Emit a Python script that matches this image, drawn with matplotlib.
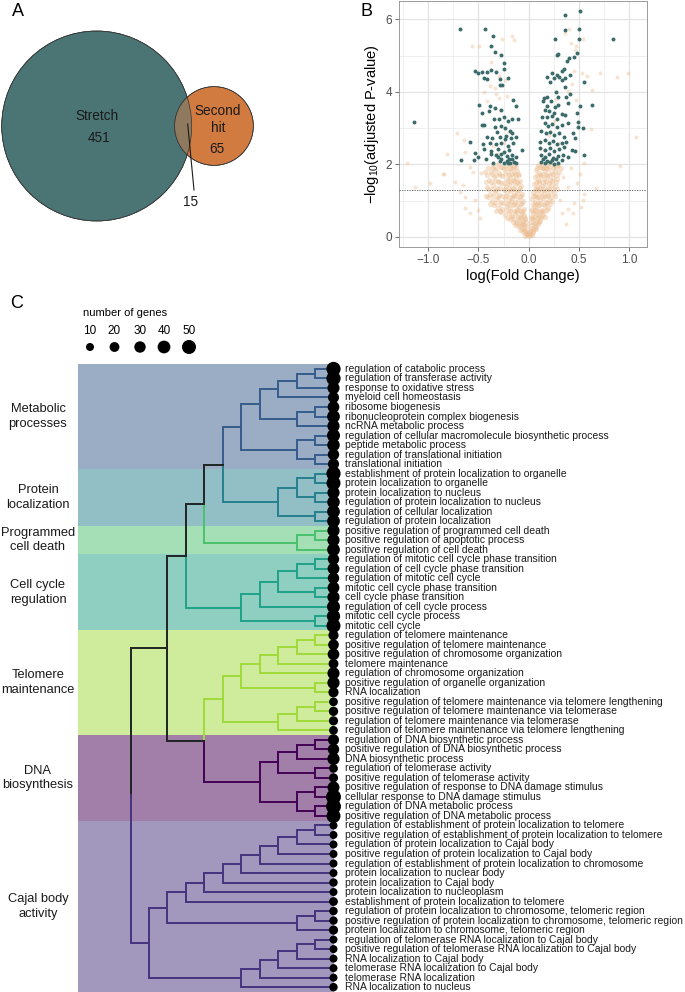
import numpy as np
import matplotlib
matplotlib.use("Agg")
import matplotlib.pyplot as plt
from matplotlib.patches import Circle, Rectangle
from matplotlib.ticker import MultipleLocator

plt.rcParams['font.family'] = ['Liberation Sans', 'DejaVu Sans']
plt.rcParams['mathtext.default'] = 'regular'

W, H = 685, 992

# ---------------- panel A: overlap of the two hit lists ----------------
VENN_NAMES = ["Stretch", "Second\nhit"]
VENN_ONLY = [451, 65]
VENN_BOTH = 15

# ---------------- panel B: volcano (log fold change, -log10 adj. p) ----------------
SIG_POINTS = [
    (-0.68, 5.73), (-0.43, 5.73), (-0.35, 5.55), (-0.37, 5.28), (-0.33, 5.11), (-0.27, 5.03),
    (-0.245, 4.81), (-0.25, 4.63), (-0.53, 4.57), (-0.50, 4.53), (-0.46, 4.55), (-0.41, 4.56),
    (-0.37, 4.61), (-0.32, 4.54), (-0.44, 4.38), (-0.41, 4.37), (-0.28, 4.37), (-0.21, 4.38),
    (-0.28, 4.19), (-0.26, 4.18), (-1.14, 3.16), (-0.16, 3.79), (-0.13, 3.61), (-0.49, 3.63),
    (-0.38, 3.62), (-0.33, 3.57), (-0.27, 3.50), (-0.46, 3.43), (-0.39, 3.47), (-0.34, 3.26),
    (-0.29, 3.24), (-0.25, 3.31), (-0.21, 3.19), (-0.17, 3.25), (-0.11, 3.25), (-0.46, 3.10),
    (-0.44, 3.09), (-0.33, 3.04), (-0.27, 3.06), (-0.24, 3.00), (-0.19, 2.92), (-0.17, 2.87),
    (-0.31, 2.90), (-0.41, 2.76), (-0.36, 2.73), (-0.28, 2.75), (-0.23, 2.78), (-0.18, 2.74),
    (-0.58, 2.63), (-0.45, 2.56), (-0.38, 2.60), (-0.32, 2.56), (-0.27, 2.58), (-0.21, 2.51),
    (-0.16, 2.58), (-0.44, 2.43), (-0.37, 2.38), (-0.30, 2.42), (-0.25, 2.35), (-0.20, 2.39),
    (-0.53, 2.31), (-0.50, 2.21), (-0.37, 2.28), (-0.32, 2.26), (-0.27, 2.28), (-0.22, 2.23),
    (-0.17, 2.26), (-0.13, 2.21), (-0.67, 2.11), (-0.54, 2.12), (-0.42, 2.15), (-0.28, 2.08),
    (-0.25, 2.03), (-0.21, 2.04), (-0.19, 2.03), (-0.15, 2.07), (-0.13, 2.03), (-0.27, 2.16),
    (-0.20, 2.14), (-0.17, 2.15), (-0.07, 2.39), (-0.13, 2.76), (-0.24, 2.70), (-0.30, 2.20),
    (-0.22, 2.10), (-0.35, 2.05),
    (0.51, 6.23), (0.36, 6.11), (0.36, 5.71), (0.50, 5.73), (0.26, 5.47), (0.50, 5.47),
    (0.84, 5.47), (0.29, 5.05), (0.28, 5.01), (0.40, 4.95), (0.45, 4.97), (0.48, 5.08),
    (0.38, 4.85), (0.35, 4.62), (0.33, 4.59), (0.23, 4.52), (0.28, 4.46), (0.18, 4.42),
    (0.25, 4.38), (0.30, 4.40), (0.33, 4.33), (0.36, 4.38), (0.21, 4.28), (0.41, 4.47),
    (0.55, 4.28), (0.36, 4.14), (0.27, 3.99), (0.15, 3.82), (0.18, 3.85), (0.29, 3.85),
    (0.37, 3.87), (0.41, 3.94), (0.14, 3.75), (0.22, 3.75), (0.39, 3.70), (0.63, 3.63),
    (0.51, 3.61), (0.18, 3.61), (0.26, 3.59), (0.29, 3.63), (0.16, 3.50), (0.20, 3.47),
    (0.25, 3.43), (0.33, 3.38), (0.48, 3.43), (0.13, 3.31), (0.18, 3.30), (0.23, 3.33),
    (0.28, 3.26), (0.36, 3.36), (0.39, 3.13), (0.16, 3.15), (0.19, 3.06), (0.23, 3.11),
    (0.28, 3.04), (0.33, 3.09), (0.49, 3.18), (0.49, 3.02), (0.54, 3.01), (0.12, 2.92),
    (0.17, 2.87), (0.21, 2.90), (0.25, 2.82), (0.30, 2.87), (0.35, 2.76), (0.44, 2.87),
    (0.11, 2.62), (0.16, 2.67), (0.20, 2.60), (0.24, 2.64), (0.28, 2.56), (0.33, 2.60),
    (0.37, 2.63), (0.46, 2.74), (0.11, 2.44), (0.16, 2.39), (0.21, 2.44), (0.25, 2.38),
    (0.30, 2.43), (0.35, 2.49), (0.43, 2.41), (0.46, 2.38), (0.12, 2.25), (0.16, 2.21),
    (0.20, 2.28), (0.24, 2.19), (0.29, 2.23), (0.34, 2.25), (0.39, 2.21), (0.55, 2.25),
    (0.12, 2.07), (0.16, 2.03), (0.21, 2.06), (0.25, 2.02), (0.29, 2.05), (0.14, 2.14),
    (0.18, 2.10), (0.23, 2.12), (0.27, 2.15), (0.33, 2.12),
]
BG_SPARSE = [
    (-1.21, 2.04), (-1.13, 1.38), (-0.98, 1.49), (-0.81, 2.28), (-0.85, 1.74), (-0.71, 2.87),
    (-0.73, 1.52), (-0.68, 1.24), (-0.63, 1.10), (-0.63, 0.81), (-0.58, 0.65), (-0.64, 2.67),
    (-0.63, 2.33), (-0.84, 1.73), (-0.65, 1.43), (-0.55, 1.78), (-0.58, 1.93), (-0.50, 0.74),
    (-0.48, 0.51), (-0.53, 1.01), (-0.47, 1.75), (-0.17, 5.55), (-0.15, 5.43), (-0.26, 5.45),
    (-0.56, 5.28), (-0.49, 5.28), (-0.37, 4.82), (-0.29, 4.45), (-0.24, 4.33), (-0.38, 4.16),
    (-0.33, 4.12), (-0.44, 4.00), (-0.32, 3.93), (-0.29, 3.82), (-0.41, 3.75),
    (0.71, 4.53), (0.99, 4.51), (0.88, 4.40), (0.63, 4.05), (1.06, 2.76), (0.91, 1.95),
    (0.67, 1.35), (0.55, 1.18), (0.52, 0.83), (0.44, 0.65), (0.37, 0.35), (0.62, 2.99),
    (0.58, 4.44), (0.53, 4.51), (0.46, 5.16), (0.47, 5.27), (0.42, 5.36), (0.54, 5.47),
    (0.36, 5.64), (0.40, 5.73), (0.45, 4.59), (0.43, 4.22), (0.39, 4.03), (0.47, 3.78),
    (0.55, 2.03), (0.51, 1.73), (0.48, 1.49), (0.42, 1.89), (0.54, 1.01), (0.45, 0.94),
    (0.39, 1.38), (0.34, 1.66), (0.31, 1.01), (0.33, 0.65), (0.39, 0.78),
    (-0.30, 2.30), (-0.25, 2.60), (-0.20, 2.90), (-0.35, 2.50), (0.15, 2.40), (0.20, 2.80),
    (0.25, 3.20), (0.30, 2.60), (-0.28, 3.50), (0.18, 3.60), (-0.22, 3.90), (0.27, 3.80),
]
BG_DENSE = [
    (-0.04, 0.03), (-0.02, 0.05), (-0.01, 0.08), (0.00, 0.02), (0.01, 0.06), (0.02, 0.09),
    (0.03, 0.04), (-0.03, 0.10), (0.005, 0.12), (-0.015, 0.07),
    (-0.06, 0.13), (-0.045, 0.20), (0.04, 0.14), (0.05, 0.21), (-0.025, 0.15), (0.02, 0.16),
    (-0.09, 0.18), (-0.07, 0.22), (-0.05, 0.27), (-0.035, 0.16), (-0.02, 0.30), (0.015, 0.20),
    (0.03, 0.25), (0.045, 0.17), (0.06, 0.28), (-0.11, 0.31), (0.075, 0.22), (-0.06, 0.35),
    (-0.14, 0.33), (-0.12, 0.40), (-0.09, 0.29), (-0.07, 0.39), (-0.05, 0.32), (-0.03, 0.41),
    (0.03, 0.33), (0.05, 0.39), (0.07, 0.31), (0.09, 0.36), (0.11, 0.44),
    (-0.16, 0.42), (-0.13, 0.38), (-0.10, 0.47), (-0.08, 0.36), (-0.06, 0.44), (-0.04, 0.50),
    (0.02, 0.40), (0.04, 0.48), (0.06, 0.37), (0.08, 0.45), (0.10, 0.41), (-0.19, 0.49),
    (0.12, 0.52),
    (-0.22, 0.53), (-0.18, 0.55), (-0.15, 0.50), (-0.11, 0.54), (-0.085, 0.51), (-0.06, 0.56),
    (-0.035, 0.53), (0.03, 0.52), (0.055, 0.55), (0.08, 0.53), (0.10, 0.56), (0.13, 0.58),
    (0.16, 0.55),
    (-0.24, 0.60), (-0.20, 0.66), (-0.17, 0.57), (-0.14, 0.63), (-0.12, 0.69), (-0.09, 0.58),
    (-0.07, 0.65), (-0.045, 0.61), (0.025, 0.56), (0.045, 0.67), (0.07, 0.62), (0.09, 0.59),
    (0.11, 0.68), (0.14, 0.64), (-0.28, 0.70),
    (-0.32, 0.72), (-0.27, 0.68), (-0.23, 0.73), (-0.19, 0.71), (-0.15, 0.70), (-0.11, 0.75),
    (-0.08, 0.72), (-0.06, 0.70), (0.035, 0.71), (0.06, 0.73), (0.085, 0.70), (0.12, 0.72),
    (0.15, 0.71), (0.18, 0.73),
    (-0.30, 0.80), (-0.26, 0.76), (-0.22, 0.86), (-0.19, 0.79), (-0.16, 0.88), (-0.13, 0.74),
    (-0.10, 0.83), (-0.08, 0.90), (-0.05, 0.78), (0.03, 0.77), (0.05, 0.85), (0.08, 0.81),
    (0.10, 0.89), (0.13, 0.75), (0.16, 0.84), (-0.34, 0.87), (0.19, 0.79),
    (-0.38, 0.92), (-0.33, 0.94), (-0.28, 0.90), (-0.25, 0.93), (-0.21, 0.91), (-0.18, 0.95),
    (-0.15, 0.92), (-0.12, 0.89), (-0.07, 0.93), (0.04, 0.92), (0.07, 0.90), (0.09, 0.94),
    (0.12, 0.92), (0.15, 0.91), (0.18, 0.93), (0.21, 0.90),
    (-0.36, 0.98), (-0.31, 1.04), (-0.27, 0.95), (-0.24, 1.08), (-0.20, 1.00), (-0.17, 1.06),
    (-0.14, 0.96), (-0.11, 1.02), (-0.09, 1.10), (-0.06, 0.99), (0.035, 1.05), (0.06, 0.97),
    (0.085, 1.09), (0.11, 1.01), (0.14, 1.07), (0.17, 0.96), (0.20, 1.03), (-0.40, 1.10),
    (0.23, 0.99),
    (-0.42, 1.13), (-0.35, 1.12), (-0.30, 1.10), (-0.26, 1.14), (-0.23, 1.12), (-0.19, 1.11),
    (-0.16, 1.14), (-0.13, 1.12), (-0.08, 1.13), (0.04, 1.12), (0.065, 1.14), (0.09, 1.11),
    (0.13, 1.13), (0.16, 1.12), (0.19, 1.14), (0.22, 1.11), (0.26, 1.13),
    (-0.38, 1.18), (-0.33, 1.24), (-0.29, 1.15), (-0.25, 1.28), (-0.22, 1.20), (-0.18, 1.26),
    (-0.15, 1.16), (-0.12, 1.22), (-0.10, 1.30), (-0.07, 1.19), (0.045, 1.25), (0.07, 1.17),
    (0.095, 1.29), (0.12, 1.21), (0.15, 1.27), (0.18, 1.16), (0.21, 1.23), (0.25, 1.20),
    (-0.40, 1.31), (-0.36, 1.33), (-0.32, 1.30), (-0.28, 1.34), (-0.24, 1.32), (-0.20, 1.31),
    (-0.16, 1.33), (-0.13, 1.30), (-0.09, 1.34), (0.06, 1.32), (0.085, 1.31), (0.11, 1.34),
    (0.14, 1.32), (0.17, 1.30), (0.20, 1.33), (0.24, 1.31), (0.28, 1.33),
    (-0.41, 1.38), (-0.35, 1.44), (-0.31, 1.35), (-0.27, 1.48), (-0.23, 1.40), (-0.20, 1.46),
    (-0.17, 1.36), (-0.14, 1.42), (-0.11, 1.50), (-0.08, 1.39), (0.05, 1.45), (0.08, 1.37),
    (0.10, 1.49), (0.13, 1.41), (0.16, 1.47), (0.19, 1.36), (0.22, 1.43), (0.26, 1.40),
    (-0.42, 1.52), (-0.37, 1.51), (-0.33, 1.54), (-0.29, 1.52), (-0.25, 1.50), (-0.21, 1.53),
    (-0.18, 1.51), (-0.15, 1.54), (-0.12, 1.52), (-0.09, 1.55), (0.07, 1.52), (0.10, 1.54),
    (0.14, 1.51), (0.17, 1.53), (0.20, 1.50), (0.23, 1.54), (0.27, 1.52),
    (-0.39, 1.58), (-0.34, 1.64), (-0.30, 1.55), (-0.26, 1.68), (-0.22, 1.60), (-0.19, 1.66),
    (-0.16, 1.56), (-0.13, 1.62), (-0.10, 1.70), (0.06, 1.65), (0.09, 1.57), (0.12, 1.69),
    (0.15, 1.61), (0.18, 1.67), (0.21, 1.56), (0.24, 1.63), (0.28, 1.60),
    (-0.41, 1.71), (-0.36, 1.73), (-0.32, 1.70), (-0.28, 1.72), (-0.24, 1.74), (-0.20, 1.71),
    (-0.17, 1.73), (-0.14, 1.70), (-0.11, 1.74), (0.08, 1.72), (0.11, 1.71), (0.14, 1.74),
    (0.17, 1.72), (0.20, 1.70), (0.24, 1.73), (0.28, 1.71),
    (-0.37, 1.78), (-0.33, 1.84), (-0.29, 1.75), (-0.25, 1.88), (-0.21, 1.80), (-0.18, 1.86),
    (-0.15, 1.76), (-0.12, 1.82), (0.07, 1.85), (0.10, 1.77), (0.13, 1.89), (0.16, 1.81),
    (0.19, 1.87), (0.22, 1.76), (0.26, 1.83), (-0.43, 1.80), (0.30, 1.79),
    (-0.40, 1.90), (-0.35, 1.91), (-0.31, 1.89), (-0.27, 1.92), (-0.23, 1.90), (-0.19, 1.91),
    (-0.16, 1.89), (-0.13, 1.92), (0.08, 1.90), (0.11, 1.92), (0.14, 1.89), (0.17, 1.91),
    (0.20, 1.93), (0.24, 1.90), (0.28, 1.92), (0.32, 1.90),
    (-0.35, 1.95), (-0.30, 2.00), (-0.26, 1.93), (-0.22, 1.98), (-0.18, 2.02), (-0.15, 1.96),
    (0.09, 1.97), (0.12, 2.01), (0.15, 1.94), (0.18, 1.99), (0.21, 2.03), (0.25, 1.95),
    (0.29, 1.98),
]
P_CUTOFF = 0.05

# ---------------- panel C: GO term clusters ----------------
GROUP_NAMES = ["Metabolic\nprocesses", "Protein\nlocalization", "Programmed\ncell death",
               "Cell cycle\nregulation", "Telomere\nmaintenance", "DNA\nbiosynthesis",
               "Cajal body\nactivity"]
GROUP_SIZES = [11, 6, 3, 8, 11, 9, 18]
GROUP_COLORS = ["#365C8D", "#277F8E", "#4AC16D", "#1FA187", "#9FDA3A", "#440154", "#46337E"]

TERMS = [
    "regulation of catabolic process",
    "regulation of transferase activity",
    "response to oxidative stress",
    "myeloid cell homeostasis",
    "ribosome biogenesis",
    "ribonucleoprotein complex biogenesis",
    "ncRNA metabolic process",
    "regulation of cellular macromolecule biosynthetic process",
    "peptide metabolic process",
    "regulation of translational initiation",
    "translational initiation",
    "establishment of protein localization to organelle",
    "protein localization to organelle",
    "protein localization to nucleus",
    "regulation of protein localization to nucleus",
    "regulation of cellular localization",
    "regulation of protein localization",
    "positive regulation of programmed cell death",
    "positive regulation of apoptotic process",
    "positive regulation of cell death",
    "regulation of mitotic cell cycle phase transition",
    "regulation of cell cycle phase transition",
    "regulation of mitotic cell cycle",
    "mitotic cell cycle phase transition",
    "cell cycle phase transition",
    "regulation of cell cycle process",
    "mitotic cell cycle process",
    "mitotic cell cycle",
    "regulation of telomere maintenance",
    "positive regulation of telomere maintenance",
    "positive regulation of chromosome organization",
    "telomere maintenance",
    "regulation of chromosome organization",
    "positive regulation of organelle organization",
    "RNA localization",
    "positive regulation of telomere maintenance via telomere lengthening",
    "positive regulation of telomere maintenance via telomerase",
    "regulation of telomere maintenance via telomerase",
    "regulation of telomere maintenance via telomere lengthening",
    "regulation of DNA biosynthetic process",
    "positive regulation of DNA biosynthetic process",
    "DNA biosynthetic process",
    "regulation of telomerase activity",
    "positive regulation of telomerase activity",
    "positive regulation of response to DNA damage stimulus",
    "cellular response to DNA damage stimulus",
    "regulation of DNA metabolic process",
    "positive regulation of DNA metabolic process",
    "regulation of establishment of protein localization to telomere",
    "positive regulation of establishment of protein localization to telomere",
    "regulation of protein localization to Cajal body",
    "positive regulation of protein localization to Cajal body",
    "regulation of establishment of protein localization to chromosome",
    "protein localization to nuclear body",
    "protein localization to Cajal body",
    "protein localization to nucleoplasm",
    "establishment of protein localization to telomere",
    "regulation of protein localization to chromosome, telomeric region",
    "positive regulation of protein localization to chromosome, telomeric region",
    "protein localization to chromosome, telomeric region",
    "regulation of telomerase RNA localization to Cajal body",
    "positive regulation of telomerase RNA localization to Cajal body",
    "RNA localization to Cajal body",
    "telomerase RNA localization to Cajal body",
    "telomerase RNA localization",
    "RNA localization to nucleus",
]

N_GENES = [
    52, 52, 35, 28, 32, 40, 36, 42, 38, 30, 28,
    52, 50, 36, 38, 40, 40,
    36, 36, 40,
    30, 33, 30, 33, 36, 42, 44, 50,
    22, 25, 32, 20, 35, 36, 22, 14, 17, 16, 14,
    28, 30, 36, 14, 16, 34, 58, 58, 50,
    10, 10, 10, 10, 10, 10, 12, 10, 14, 12, 12, 16, 10, 10, 10, 10, 10, 12,
]

# hierarchical merges: (child a, child b, merge height); ids >= 66 are earlier merges
MERGES = [
    (0, 1, 1), (66, 2, 2), (67, 3, 3), (4, 5, 1), (69, 6, 2), (68, 70, 4),
    (7, 8, 1), (9, 10, 1), (72, 73, 2), (71, 74, 5),
    (11, 12, 1), (13, 14, 1), (76, 77, 2), (15, 16, 1), (78, 79, 3), (75, 80, 6),
    (17, 18, 1), (82, 19, 2), (81, 83, 7),
    (20, 21, 1), (85, 22, 2), (23, 24, 1), (86, 87, 3), (88, 25, 4), (26, 27, 1),
    (89, 90, 5), (84, 91, 8),
    (28, 29, 1), (93, 30, 2), (94, 31, 3), (95, 32, 4), (33, 34, 1), (96, 97, 5),
    (35, 36, 1), (99, 37, 2), (100, 38, 3), (98, 101, 6),
    (39, 40, 1), (103, 41, 2), (42, 43, 1), (104, 105, 3), (44, 45, 1), (46, 47, 1),
    (107, 108, 2), (106, 109, 4), (102, 110, 7), (92, 111, 9),
    (48, 49, 1), (113, 50, 2), (114, 51, 3), (115, 52, 4), (116, 53, 5), (117, 54, 6),
    (118, 55, 7), (119, 56, 8), (57, 58, 1), (121, 59, 2), (120, 122, 9),
    (60, 61, 1), (124, 62, 2), (125, 63, 3), (126, 64, 4), (127, 65, 5),
    (123, 128, 10), (112, 129, 11),
]
LEGEND_GENES = [10, 20, 30, 40, 50]
MIXED = "#1f2424"


def dot_size(n):
    # ggplot-like area scale: 10 genes -> 8 px, 50 genes -> 14 px diameter
    d2 = 64 + 3.3 * (np.asarray(n, float) - 10)
    return 0.5184 * d2


def px_axes(fig, x0, y0, x1, y1):
    return fig.add_axes([x0 / W, 1 - y1 / H, (x1 - x0) / W, (y1 - y0) / H])


fig = plt.figure(figsize=(W / 100, H / 100), dpi=100)

# ---- A ----
axA = px_axes(fig, 0, 0, 300, 260)
axA.set_xlim(0, 300); axA.set_ylim(260, 0); axA.axis("off")
k = 95 / np.sqrt(VENN_ONLY[0] + VENN_BOTH)
r1 = k * np.sqrt(VENN_ONLY[0] + VENN_BOTH)
r2 = k * np.sqrt(VENN_ONLY[1] + VENN_BOTH)
c1, c2 = (96.7, 126), (214, 126)
big = Circle(c1, r1, fc="#4b7575", ec="#333333", lw=0.5)
small = Circle(c2, r2, fc="#d27b41", ec="#333333", lw=0.5)
axA.add_patch(big); axA.add_patch(small)
both = Circle(c2, r2, fc="#8f7a5f", ec="none")
axA.add_patch(both); both.set_clip_path(big)
axA.add_patch(Circle(c2, r2, fc="none", ec="#333333", lw=0.5))
axA.add_patch(Circle(c1, r1, fc="none", ec="#333333", lw=0.5))
axA.text(96.7, 116.5, VENN_NAMES[0], ha="center", va="center", fontsize=9.8, color="#1a1a1a")
axA.text(99, 137.5, str(VENN_ONLY[0]), ha="center", va="center", fontsize=9.8, color="#1a1a1a")
axA.text(218, 119.5, VENN_NAMES[1], ha="center", va="center", fontsize=9.8, color="#1a1a1a",
         linespacing=1.25)
axA.text(216.7, 149, str(VENN_ONLY[1]), ha="center", va="center", fontsize=9.8, color="#1a1a1a")
axA.text(191, 202, str(VENN_BOTH), ha="center", va="center", fontsize=9.8, color="#1a1a1a")
axA.plot([187.7, 194], [124, 190], color="#1a1a1a", lw=0.8)
fig.text(18 / W, 1 - 12 / H, "A", ha="center", va="center", fontsize=13)

# ---- B ----
axB = px_axes(fig, 399, 1, 647, 247)
sig = np.array(SIG_POINTS); bgs = np.array(BG_SPARSE); bgd = np.array(BG_DENSE)
axB.scatter(bgs[:, 0], bgs[:, 1], s=8, color="#ebbc8f", alpha=0.4, lw=0, zorder=2)
axB.scatter(bgd[:, 0], bgd[:, 1], s=14, color="#ecbf94", alpha=0.45, lw=0, zorder=2)
axB.scatter(sig[:, 0], sig[:, 1], s=8, color="#3b6b6a", lw=0, zorder=3)
axB.axhline(-np.log10(P_CUTOFF), color="#555555", lw=0.6, ls=(0, (1.5, 1.5)), zorder=4)
axB.set_xlim(-1.287, 1.174); axB.set_ylim(-0.28, 6.51)
axB.set_xticks([-1, -0.5, 0, 0.5, 1]); axB.set_yticks([0, 2, 4, 6])
axB.xaxis.set_minor_locator(MultipleLocator(0.25)); axB.yaxis.set_minor_locator(MultipleLocator(1))
axB.grid(which="major", color="#e3e3e3", lw=0.9, zorder=0)
axB.grid(which="minor", color="#ececec", lw=0.6, zorder=0)
axB.set_axisbelow(True)
axB.tick_params(which="major", length=3, width=0.6, color="#555555", labelsize=8.5,
                labelcolor="#4d4d4d", pad=2)
axB.tick_params(which="minor", length=0)
for s in axB.spines.values():
    s.set_color("#9a9a9a"); s.set_linewidth(0.7)
axB.set_xlabel("log(Fold Change)", fontsize=10.5, labelpad=2)
axB.set_ylabel("\u2212log$_{10}$(adjusted P-value)", fontsize=10.5, labelpad=3)
fig.text(367 / W, 1 - 11 / H, "B", ha="center", va="center", fontsize=13)

# ---- C ----
n_leaves = len(TERMS)
axC = px_axes(fig, 78, 364.2, 333.5, 991.9)
axC.set_xlim(13.85, 0); axC.set_ylim(n_leaves - 0.5, -0.5); axC.axis("off")

group_of = np.repeat(np.arange(len(GROUP_SIZES)), GROUP_SIZES)
starts = np.concatenate([[0], np.cumsum(GROUP_SIZES)[:-1]])
for g, (st, sz) in enumerate(zip(starts, GROUP_SIZES)):
    axC.add_patch(Rectangle((0, st - 0.5), 13.85, sz, fc=GROUP_COLORS[g], alpha=0.5,
                            lw=0, zorder=0))
    axC.text(16.02, st - 0.5 + sz / 2, GROUP_NAMES[g], ha="center", va="center",
             fontsize=9.3, color="#1a1a1a", clip_on=False, linespacing=1.3)

pos = {i: float(i) for i in range(n_leaves)}
height = {i: 0.0 for i in range(n_leaves)}
members = {i: {group_of[i]} for i in range(n_leaves)}
children = {}
for j, (a, b, h) in enumerate(MERGES):
    nid = n_leaves + j
    pos[nid] = (pos[a] + pos[b]) / 2
    height[nid] = h
    members[nid] = members[a] | members[b]
    children[nid] = (a, b)


def col(node):
    m = members[node]
    return GROUP_COLORS[next(iter(m))] if len(m) == 1 else MIXED


for nid, (a, b) in children.items():
    hp = height[nid]
    for c in (a, b):
        axC.plot([hp, hp, height[c]], [pos[nid], pos[c], pos[c]], color=col(c), lw=1.4,
                 solid_joinstyle="miter", solid_capstyle="projecting", zorder=2)

leaf_y = np.arange(n_leaves)
axC.scatter(np.zeros(n_leaves), leaf_y, s=dot_size(N_GENES), color="black", lw=0,
            zorder=4, clip_on=False)
for i, t in enumerate(TERMS):
    axC.annotate(t, (0, i), xytext=(8.3, 0), textcoords="offset points", ha="left",
                 va="center", fontsize=7.5, color="#1a1a1a", annotation_clip=False)

fig.text(17 / W, 1 - 303 / H, "C", ha="center", va="center", fontsize=13)

# size legend
axL = px_axes(fig, 0, 300, 300, 362)
axL.set_xlim(0, 300); axL.set_ylim(362, 300); axL.axis("off")
axL.text(83, 313, "number of genes", ha="left", va="center", fontsize=8)
leg_x = [90, 114.5, 140, 164, 189]
for xx, g in zip(leg_x, LEGEND_GENES):
    axL.text(xx, 331, str(g), ha="center", va="center", fontsize=8.5)
axL.scatter(leg_x, [347] * len(leg_x), s=dot_size(LEGEND_GENES), color="black", lw=0,
            clip_on=False)

fig.savefig("out.png", dpi=100)
